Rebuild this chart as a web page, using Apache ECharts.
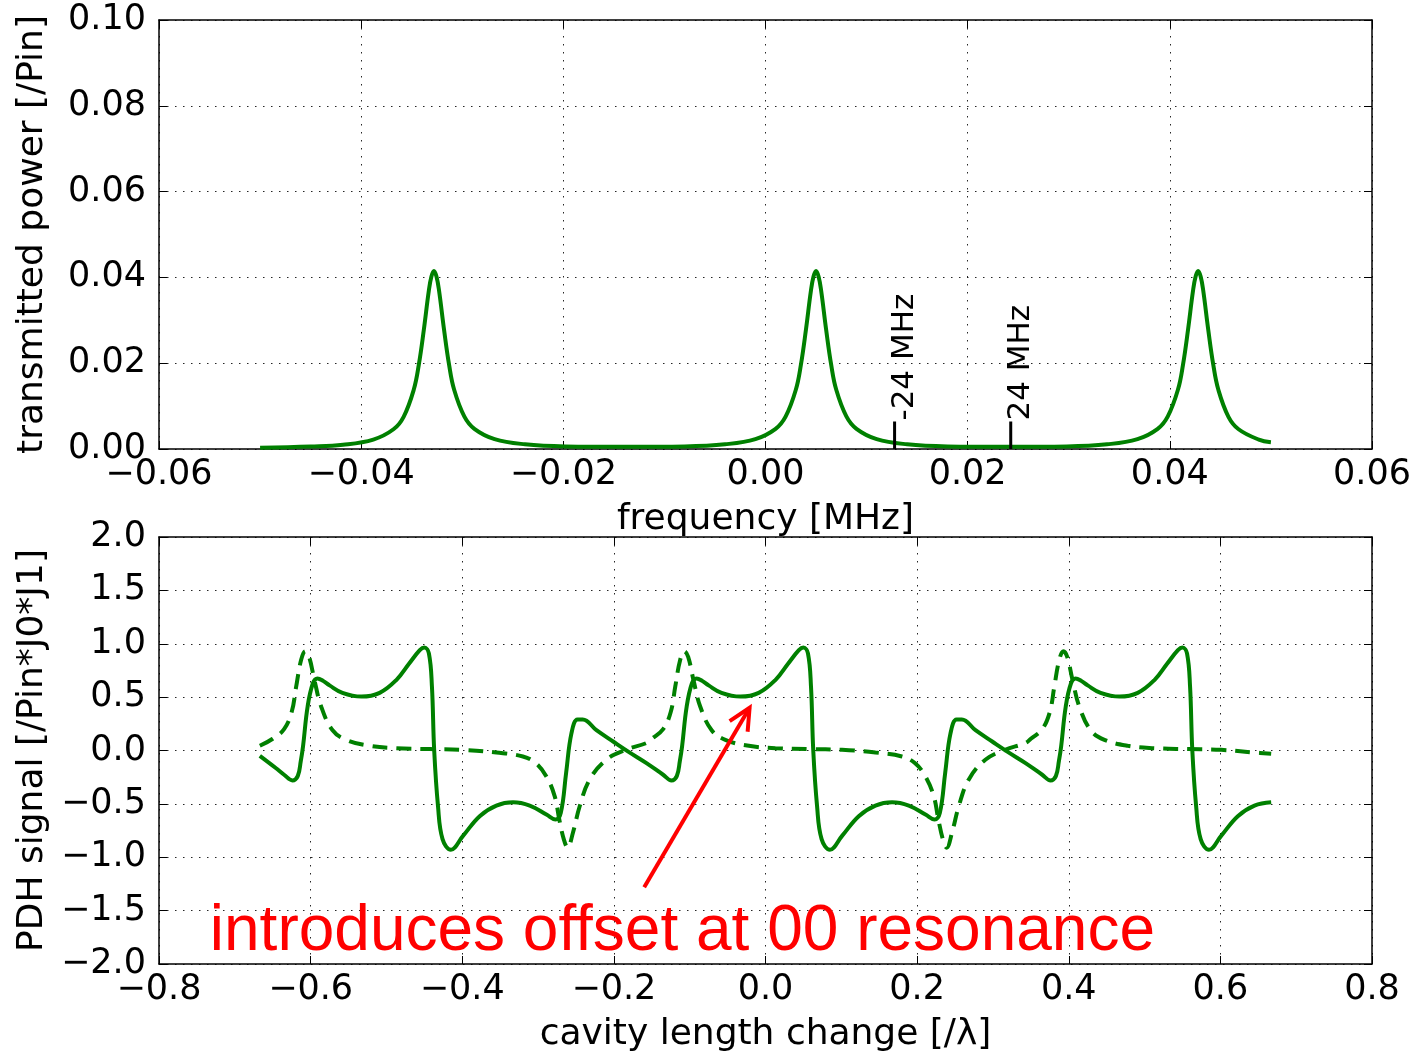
<!DOCTYPE html>
<html>
<head>
<meta charset="utf-8">
<script src="https://cdn.jsdelivr.net/npm/echarts@6/dist/echarts.min.js"></script>
<style>
html,body{margin:0;padding:0;background:#fff;}
#main{width:1416px;height:1054px;}
</style>
</head>
<body>
<div id="main"></div>
<script>
// top panel: transmitted power vs frequency
var freqTicks = [-0.06, -0.04, -0.02, 0.00, 0.02, 0.04, 0.06];
var powerTicks = [0.00, 0.02, 0.04, 0.06, 0.08, 0.10];
var freqX = [-0.05,-0.045,-0.0418,-0.0388,-0.0368,-0.0358,-0.0348,-0.0343,-0.0338,-0.0333,-0.03305,-0.0328,-0.03255,-0.0323,-0.0318,-0.0313,-0.0308,-0.0298,-0.0288,-0.0268,-0.0238,-0.0198,-0.0139,
    -0.008,-0.004,-0.001,0.001,0.002,0.003,0.0035,0.004,0.0045,0.00475,0.005,0.00525,0.0055,0.006,0.0065,0.007,0.008,0.009,0.011,0.014,0.018,0.0239,
    0.0298,0.0338,0.0368,0.0388,0.0398,0.0408,0.0413,0.0418,0.0423,0.04255,0.0428,0.04305,0.0433,0.0438,0.0443,0.0448,0.0458,0.0468,0.0488,0.05];
var power = [0.0003,0.0006,0.0010,0.0022,0.0046,0.0075,0.0138,0.0196,0.0278,0.0370,0.0402,0.0415,0.0402,0.0370,0.0278,0.0196,0.0138,0.0076,0.0047,0.0023,0.0011,0.0006,0.0005,
    0.0006,0.0011,0.0023,0.0047,0.0076,0.0138,0.0196,0.0278,0.0370,0.0402,0.0415,0.0402,0.0370,0.0278,0.0196,0.0138,0.0076,0.0047,0.0023,0.0011,0.0006,0.0005,
    0.0006,0.0011,0.0023,0.0047,0.0076,0.0138,0.0196,0.0278,0.0370,0.0402,0.0415,0.0402,0.0370,0.0278,0.0196,0.0138,0.0075,0.0046,0.0022,0.0016];
// sideband markers
var markerNames = ['-24 MHz', '24 MHz'];
var markerX = [0.01277, 0.02426];
var markerHeight = 0.0064;

// bottom panel: PDH signal vs cavity length
var lengthTicks = [-0.8, -0.6, -0.4, -0.2, 0.0, 0.2, 0.4, 0.6, 0.8];
var pdhTicks = [-2.0, -1.5, -1.0, -0.5, 0.0, 0.5, 1.0, 1.5, 2.0];
var solidX = [-0.667,-0.646,-0.635,-0.624,-0.617,-0.613,-0.610,-0.604,-0.597,-0.591,-0.583,-0.575,-0.558,-0.533,-0.509,-0.487,-0.470,-0.456,-0.450,-0.444,-0.440,-0.437,-0.432,-0.426,-0.415,-0.399,-0.377,-0.355,-0.333,-0.311,-0.289,-0.277,-0.270,-0.263,-0.256,-0.248,-0.241,-0.223,-0.201,-0.179,-0.157,-0.135,
    -0.124,-0.117,-0.113,-0.110,-0.104,-0.097,-0.091,-0.083,-0.075,-0.058,-0.033,-0.009,0.013,0.030,0.044,0.050,0.056,0.060,0.063,0.068,0.074,0.085,0.101,0.123,0.145,0.167,0.189,0.211,0.223,0.230,0.237,0.244,0.252,0.259,0.277,0.299,0.321,0.343,0.365,
    0.376,0.383,0.387,0.390,0.396,0.403,0.409,0.417,0.425,0.442,0.467,0.491,0.513,0.530,0.544,0.550,0.556,0.560,0.563,0.568,0.574,0.585,0.601,0.623,0.645,0.667];
var solidY = [-0.05,-0.164,-0.227,-0.28,-0.24,-0.10,0.04,0.41,0.63,0.675,0.65,0.61,0.54,0.505,0.54,0.66,0.815,0.94,0.965,0.91,0.60,0.0,-0.52,-0.83,-0.93,-0.80,-0.615,-0.516,-0.485,-0.516,-0.60,-0.646,-0.584,-0.21,0.16,0.29,0.29,0.19,0.084,-0.02,-0.118,-0.227,
    -0.28,-0.24,-0.10,0.04,0.41,0.63,0.675,0.65,0.61,0.54,0.505,0.54,0.66,0.815,0.94,0.965,0.91,0.60,0.0,-0.52,-0.83,-0.93,-0.80,-0.615,-0.516,-0.485,-0.516,-0.60,-0.646,-0.584,-0.21,0.16,0.29,0.29,0.19,0.084,-0.02,-0.118,-0.227,
    -0.28,-0.24,-0.10,0.04,0.41,0.63,0.675,0.65,0.61,0.54,0.505,0.54,0.66,0.815,0.94,0.965,0.91,0.60,0.0,-0.52,-0.83,-0.93,-0.80,-0.615,-0.516,-0.485];
var dashX = [-0.667,-0.650,-0.635,-0.625,-0.619,-0.6125,-0.607,-0.602,-0.595,-0.586,-0.571,-0.553,-0.522,-0.487,-0.443,-0.399,-0.355,-0.320,-0.303,-0.289,-0.278,-0.272,-0.266,-0.261,-0.254,-0.245,-0.232,-0.210,-0.184,-0.157,
    -0.150,-0.135,-0.125,-0.119,-0.1125,-0.107,-0.102,-0.095,-0.086,-0.071,-0.053,-0.022,0.013,0.057,0.101,0.145,0.180,0.197,0.211,0.222,0.228,0.234,0.239,0.246,0.255,0.268,0.290,0.316,0.343,
    0.350,0.365,0.375,0.381,0.3875,0.393,0.398,0.405,0.414,0.429,0.447,0.478,0.513,0.557,0.601,0.645,0.667];
var dashY = [0.044,0.11,0.20,0.36,0.60,0.85,0.93,0.877,0.66,0.41,0.19,0.10,0.044,0.022,0.013,0.006,-0.019,-0.056,-0.118,-0.243,-0.43,-0.646,-0.833,-0.91,-0.77,-0.52,-0.273,-0.087,0.007,0.07,
    0.11,0.20,0.36,0.60,0.85,0.93,0.877,0.66,0.41,0.19,0.10,0.044,0.022,0.013,0.006,-0.019,-0.056,-0.118,-0.243,-0.43,-0.646,-0.833,-0.91,-0.77,-0.52,-0.273,-0.087,0.007,0.07,
    0.11,0.20,0.36,0.60,0.85,0.93,0.877,0.66,0.41,0.19,0.10,0.044,0.022,0.013,0.006,-0.019,-0.03];

// annotation (data coords of bottom panel)
var noteText = 'introduces offset at 00 resonance';
var notePos = [-0.733, -1.70];
var arrowFrom = [-0.160, -1.28];
var arrowTo = [-0.021, 0.40];
var yNames = ['transmitted power [/Pin]', 'PDH signal [/Pin*J0*J1]'];

var FONT = 'DejaVu Sans';
var GREEN = '#008000';

function zip(xs, ys) {
    return xs.map(function (x, i) { return [x, ys[i]]; });
}
function fmt(digits) {
    return function (v) {
        if (Math.abs(v) < 1e-9) v = 0;
        return v.toFixed(digits).replace('-', '\u2212');
    };
}

function mainAxis(grid, ticks, digits, pos, name) {
    return {
        gridIndex: grid, type: 'value', position: pos,
        min: ticks[0], max: ticks[ticks.length - 1],
        interval: +(ticks[1] - ticks[0]).toFixed(6),
        axisLine: {show: true, onZero: false, lineStyle: {color: '#000', width: 1.5}},
        axisTick: {show: true, inside: true, length: 8, lineStyle: {color: '#000', width: 1}},
        axisLabel: {show: true, color: '#000', fontFamily: FONT, fontSize: 35, margin: pos === 'left' ? 13 : 8,
            formatter: fmt(digits)},
        splitLine: {show: true, lineStyle: {color: '#000', width: 1, type: [1.5, 6.5], opacity: 0.85}},
        name: name, nameLocation: 'middle', nameGap: 53,
        nameTextStyle: {color: '#000', fontFamily: FONT, fontSize: 36}
    };
}
function mirrorAxis(grid, ticks, pos) {
    return {
        gridIndex: grid, type: 'value', position: pos,
        min: ticks[0], max: ticks[ticks.length - 1],
        interval: +(ticks[1] - ticks[0]).toFixed(6),
        axisLine: {show: true, onZero: false, lineStyle: {color: '#000', width: 1.5}},
        axisTick: {show: true, inside: true, length: 8, lineStyle: {color: '#000', width: 1}},
        axisLabel: {show: false},
        splitLine: {show: false}
    };
}

var chart = echarts.init(document.getElementById('main'), null, {renderer: 'canvas'});

var option = {
    animation: false,
    backgroundColor: '#fff',
    grid: [
        {left: 159, top: 20, width: 1213, height: 429},
        {left: 159, top: 537, width: 1213, height: 429}
    ],
    xAxis: [
        mainAxis(0, freqTicks, 2, 'bottom', 'frequency [MHz]'),
        mirrorAxis(0, freqTicks, 'top'),
        mainAxis(1, lengthTicks, 1, 'bottom', 'cavity length change [/\u03bb]'),
        mirrorAxis(1, lengthTicks, 'top')
    ],
    yAxis: [
        mainAxis(0, powerTicks, 2, 'left', ''),
        mirrorAxis(0, powerTicks, 'right'),
        mainAxis(1, pdhTicks, 1, 'left', ''),
        mirrorAxis(1, pdhTicks, 'right')
    ],
    series: [
        {
            type: 'line', xAxisIndex: 0, yAxisIndex: 0,
            data: zip(freqX, power), showSymbol: false, smooth: 0.4,
            lineStyle: {color: GREEN, width: 4, join: 'round'}, z: 3
        },
        {
            type: 'line', xAxisIndex: 0, yAxisIndex: 0,
            data: [[markerX[0], 0], [markerX[0], markerHeight]], showSymbol: false,
            lineStyle: {color: '#000', width: 3}, z: 4
        },
        {
            type: 'line', xAxisIndex: 0, yAxisIndex: 0,
            data: [[markerX[1], 0], [markerX[1], markerHeight]], showSymbol: false,
            lineStyle: {color: '#000', width: 3}, z: 4
        },
        {
            type: 'line', xAxisIndex: 2, yAxisIndex: 2,
            data: zip(solidX, solidY), showSymbol: false, smooth: 0.4,
            lineStyle: {color: GREEN, width: 4, join: 'round'}, z: 3
        },
        {
            type: 'line', xAxisIndex: 2, yAxisIndex: 2,
            data: zip(dashX, dashY), showSymbol: false, smooth: 0.4,
            lineStyle: {color: GREEN, width: 4, type: [15, 9]}, z: 3
        }
    ]
};
chart.setOption(option);

// annotations placed through the axes' own coordinate conversion
var graphics = [];
markerX.forEach(function (x, i) {
    var p = chart.convertToPixel({gridIndex: 0}, [x, markerHeight]);
    graphics.push({
        type: 'text', x: p[0] - 5, y: p[1] - 1, rotation: Math.PI / 2,
        style: {text: markerNames[i], fill: '#000', font: '31px "' + FONT + '"', textAlign: 'left', textVerticalAlign: 'top'},
        z: 10
    });
});
// y axis titles
[[0, powerTicks], [1, pdhTicks]].forEach(function (g) {
    var t = g[1];
    var c = chart.convertToPixel({gridIndex: g[0]}, [0, (t[0] + t[t.length - 1]) / 2]);
    var left = chart.convertToPixel({gridIndex: g[0]}, [g[0] === 0 ? freqTicks[0] : lengthTicks[0], 0]);
    graphics.push({
        type: 'text', x: left[0] - 126, y: c[1], rotation: Math.PI / 2,
        style: {text: yNames[g[0]], fill: '#000', font: '36px "' + FONT + '"', textAlign: 'center', textVerticalAlign: 'middle'},
        z: 10
    });
});
var np = chart.convertToPixel({gridIndex: 1}, notePos);
graphics.push({
    type: 'text', x: np[0], y: np[1],
    style: {text: noteText, fill: '#ff0000', font: '64px "Liberation Sans"', textAlign: 'left', textVerticalAlign: 'middle'},
    z: 10
});
var a0 = chart.convertToPixel({gridIndex: 1}, arrowFrom);
var a1 = chart.convertToPixel({gridIndex: 1}, arrowTo);
var ang = Math.atan2(a0[1] - a1[1], a0[0] - a1[0]);
var head = 24, spread = 0.45;
graphics.push({
    type: 'polyline', z: 10,
    shape: {points: [a0, a1]},
    style: {stroke: '#ff0000', lineWidth: 4, fill: null}
});
graphics.push({
    type: 'polyline', z: 10,
    shape: {points: [
        [a1[0] + head * Math.cos(ang + spread), a1[1] + head * Math.sin(ang + spread)],
        a1,
        [a1[0] + head * Math.cos(ang - spread), a1[1] + head * Math.sin(ang - spread)]
    ]},
    style: {stroke: '#ff0000', lineWidth: 4, fill: null, lineJoin: 'miter'}
});
chart.setOption({graphic: graphics});
</script>
</body>
</html>
